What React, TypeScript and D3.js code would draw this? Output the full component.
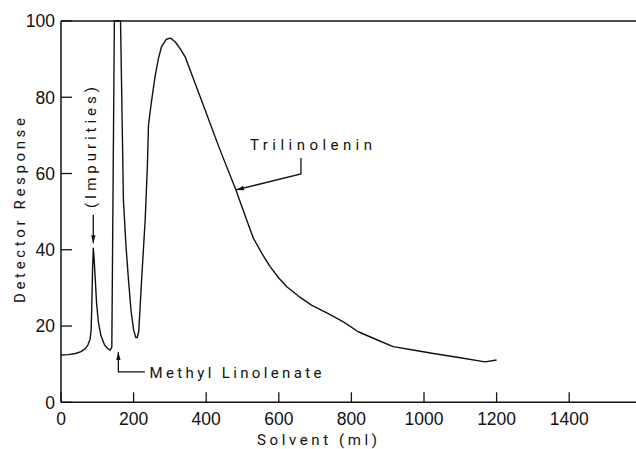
import React from "react";
import * as d3 from "d3";

// solvent volume (ml) and detector response
const solvent = [
  0, 20, 40, 55, 66, 74, 80, 83, 85, 87, 89, 91, 94, 98, 103, 110, 120, 130, 136, 140,
  147, 164, 172, 179, 186, 193, 200, 206, 210, 214, 218, 222, 227, 232, 238, 241, 248,
  259, 268, 277, 290, 302, 315, 330, 342, 390, 438, 482, 505, 530, 555, 576, 600, 622,
  655, 690, 735, 778, 819, 870, 915, 970, 1026, 1100, 1168, 1200,
];
const response = [
  12.4, 12.5, 12.8, 13.3, 14, 15, 16.5, 19, 26, 35, 40.4, 38, 33, 26, 21, 17.5, 15, 14,
  13.7, 14.5, 100, 100, 53, 41, 32, 24, 19, 17, 17, 18.5, 25, 32, 40, 48, 62, 72.7, 78,
  85.4, 90, 93.3, 95.2, 95.5, 94.5, 92.5, 90.6, 78.4, 66.2, 55.7, 49.5, 43, 38.8, 35.6,
  32.6, 30.3, 27.8, 25.5, 23.3, 21.1, 18.5, 16.4, 14.6, 13.7, 12.8, 11.7, 10.6, 11.1,
];

const xTicks = [0, 200, 400, 600, 800, 1000, 1200, 1400];
const yTicks = [0, 20, 40, 60, 80, 100];

const App = () => {
  const width = 636;
  const height = 449;
  const left = 61;
  const top = 21;
  const bottom = 402.3;

  const x = d3.scaleLinear().domain([0, 1600]).range([left, left + 1600 * 0.363]);
  const y = d3.scaleLinear().domain([0, 100]).range([bottom, top]);

  const data = solvent.map((s, i) => ({ s, r: response[i] }));
  const line = d3
    .line<{ s: number; r: number }>()
    .x((d) => x(d.s))
    .y((d) => y(d.r));

  const ink = "#111";
  const font = "Roboto, 'DejaVu Sans', sans-serif";
  const tickFont = "'Liberation Sans', Arial, sans-serif";

  // annotation anchors (data units)
  const tri = { tipX: 482, tipY: 55.7, elbowX: 661, elbowY: 59.9, topY: 64.1 };
  const imp = { x: 89, fromY: 49.2, tipY: 41.7 };
  const met = { x: 158, tipY: 13.2, baseY: 8.0, endX: 231 };

  const arrowHead = (tx: number, ty: number, angle: number) => {
    const len = 8;
    const w = 2.2;
    const a = (angle * Math.PI) / 180;
    const bx = tx - len * Math.cos(a);
    const by = ty - len * Math.sin(a);
    const px = -Math.sin(a) * w;
    const py = Math.cos(a) * w;
    return `M${tx},${ty}L${bx + px},${by + py}L${bx - px},${by - py}Z`;
  };

  const triTip = [x(tri.tipX), y(tri.tipY)];
  const triElbow = [x(tri.elbowX), y(tri.elbowY)];
  const triAngle =
    (Math.atan2(triTip[1] - triElbow[1], triTip[0] - triElbow[0]) * 180) / Math.PI;

  const label = {
    fontFamily: font,
    fontSize: 15,
    fontWeight: 400,
    fill: ink,
    lengthAdjust: "spacing",
  } as const;

  return (
    <svg
      width={width}
      height={height}
      style={{ position: "absolute", left: 0, top: 0, background: "#fff" }}
    >
      {/* frame */}
      <g stroke={ink} strokeWidth={1.5} fill="none">
        <line x1={left} y1={top} x2={width} y2={top} />
        <line x1={left} y1={top} x2={left} y2={bottom} />
        <line x1={left} y1={bottom} x2={width} y2={bottom} />
      </g>

      {/* y ticks */}
      {yTicks.map((t) => (
        <g key={`y${t}`}>
          <line x1={left} x2={left + 11} y1={y(t)} y2={y(t)} stroke={ink} strokeWidth={1.3} />
          <text
            x={55}
            y={y(t)}
            dy="0.36em"
            textAnchor="end"
            fontFamily={tickFont}
            fontSize={17.5}
            fill={ink}
          >
            {t}
          </text>
        </g>
      ))}

      {/* x ticks */}
      {xTicks.map((t) => (
        <g key={`x${t}`}>
          <line x1={x(t)} x2={x(t)} y1={bottom} y2={bottom - 10} stroke={ink} strokeWidth={1.3} />
          <text
            x={x(t)}
            y={425}
            textAnchor="middle"
            fontFamily={tickFont}
            fontSize={17.5}
            fill={ink}
          >
            {t}
          </text>
        </g>
      ))}

      {/* axis titles */}
      <text x={257} y={445} textLength={120} {...label}>
        Solvent (ml)
      </text>
      <text transform={`translate(25,303) rotate(-90)`} textLength={185} {...label}>
        Detector Response
      </text>

      {/* trace */}
      <path d={line(data) || ""} fill="none" stroke={ink} strokeWidth={1.4} strokeLinejoin="round" />

      {/* Trilinolenin */}
      <path
        d={`M${triElbow[0]},${y(tri.topY)}L${triElbow[0]},${triElbow[1]}L${triTip[0]},${triTip[1]}`}
        fill="none"
        stroke={ink}
        strokeWidth={1.3}
      />
      <path d={arrowHead(triTip[0], triTip[1], triAngle)} fill={ink} />
      <text x={250} y={150} textLength={122} {...label}>
        Trilinolenin
      </text>

      {/* Impurities */}
      <line x1={x(imp.x)} x2={x(imp.x)} y1={y(imp.fromY)} y2={y(imp.tipY)} stroke={ink} strokeWidth={1.3} />
      <path d={arrowHead(x(imp.x), y(imp.tipY), 90)} fill={ink} />
      <text transform={`translate(95.5,208) rotate(-90)`} textLength={121} {...label}>
        (Impurities)
      </text>

      {/* Methyl Linolenate */}
      <path
        d={`M${x(met.x)},${y(met.tipY)}L${x(met.x)},${y(met.baseY)}L${x(met.endX)},${y(met.baseY)}`}
        fill="none"
        stroke={ink}
        strokeWidth={1.3}
      />
      <path d={arrowHead(x(met.x), y(met.tipY), -90)} fill={ink} />
      <text x={149.5} y={377.7} textLength={172} {...label}>
        Methyl Linolenate
      </text>
    </svg>
  );
};

export default App;
